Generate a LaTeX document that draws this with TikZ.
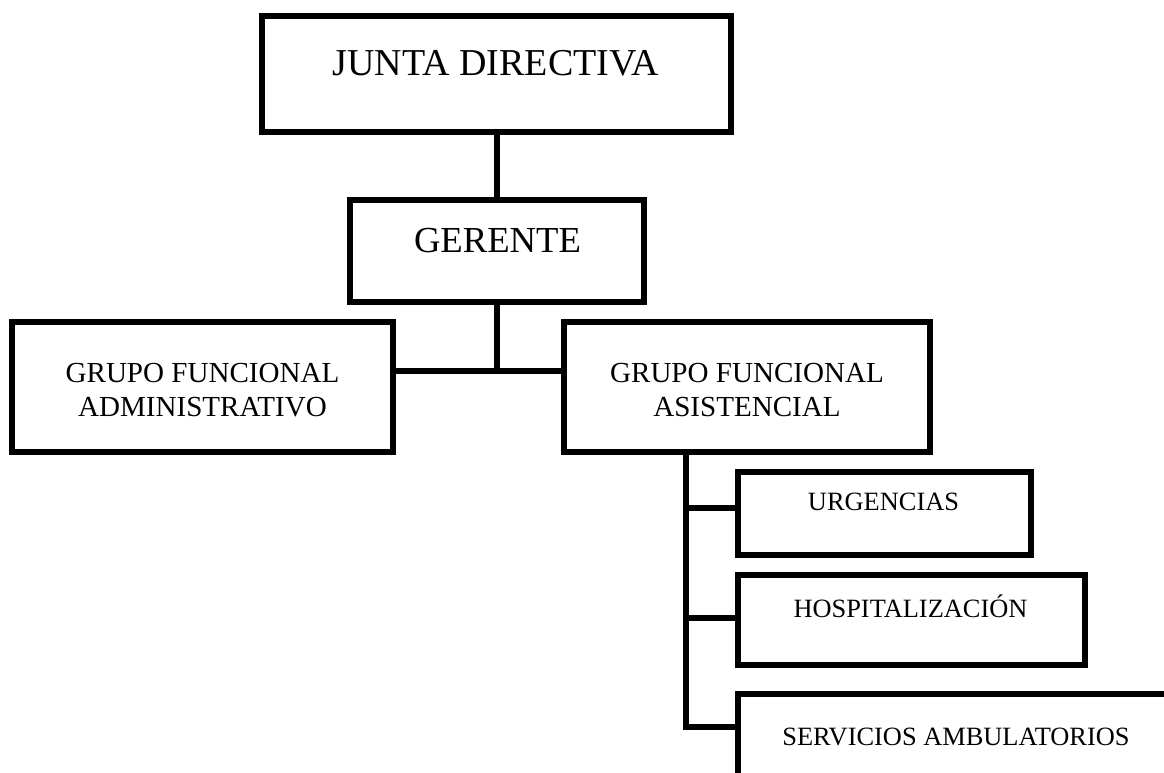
\documentclass[tikz,border=0pt]{standalone}
\usepackage{fontspec}
\setmainfont{Liberation Serif}
\tikzset{
  caja/.style={draw, line width=4.5pt, inner sep=0pt},
  enlace/.style={line width=4.5pt},
  grupo/.style={align=center, inner sep=0pt, font=\fontsize{21.8}{25.5}\selectfont},
  area/.style={anchor=base, inner sep=0.75pt, font=\fontsize{19.8}{24}\selectfont},
}
\begin{document}
\begin{tikzpicture}[x=0.75pt,y=0.75pt,yscale=-1,xscale=1]
\clip (0,0) rectangle (1164,772);
\fill [white] (0,0) rectangle (1164,772);
\draw (496.5,74) node [caja, minimum width=351.75pt, minimum height=87pt] (junta) {};
\draw (497,251) node [caja, minimum width=220.5pt, minimum height=76.5pt] (gerente) {};
\draw (202.5,387) node [caja, minimum width=285.75pt, minimum height=97.5pt] (admin) {};
\draw (747,387) node [caja, minimum width=274.5pt, minimum height=97.5pt] (asist) {};
\draw (884.5,513.5) node [caja, minimum width=219.75pt, minimum height=62.25pt] (urg) {};
\draw (911.5,620) node [caja, minimum width=260.25pt, minimum height=67.5pt] (hosp) {};
\draw (1038,794) node [caja, minimum width=450pt, minimum height=150pt] (serv) {};
\coordinate (nudo) at (497,371);
\coordinate (eje) at (685.5,452);
\coordinate (r1) at (685.5,507.5);
\coordinate (r2) at (685.5,618);
\coordinate (r3) at (685.5,727);
\draw [enlace]   (junta.south) -- (junta.south |- gerente.north) ;
\draw [enlace]   (gerente.south) -- (nudo) ;
\draw [enlace]   (admin.east |- nudo) -- (asist.west |- nudo) ;
\draw [enlace]   (eje |- asist.south) |- (r3 -| serv.west) ;
\draw [enlace]   (r1) -- (r1 -| urg.west) ;
\draw [enlace]   (r2) -- (r2 -| hosp.west) ;
\draw (496,75) node [anchor=base] [inner sep=0.75pt, font=\fontsize{28.5}{34}\selectfont] (tjunta) {JUNTA DIRECTIVA};
\draw (497.5,252) node [anchor=base] [inner sep=0.75pt, font=\fontsize{27.5}{33}\selectfont] (tgerente) {GERENTE};
\draw (202.5,390) node [grupo] (tadmin) {GRUPO FUNCIONAL\\ADMINISTRATIVO};
\draw (747,390) node [grupo] (tasist) {GRUPO FUNCIONAL\\ASISTENCIAL};
\draw (883.5,510) node [area] (turg) {URGENCIAS};
\draw (910.5,617) node [area] (thosp) {HOSPITALIZACIÓN};
\draw (956,745) node [area] (tserv) {SERVICIOS AMBULATORIOS};
\end{tikzpicture}
\end{document}
